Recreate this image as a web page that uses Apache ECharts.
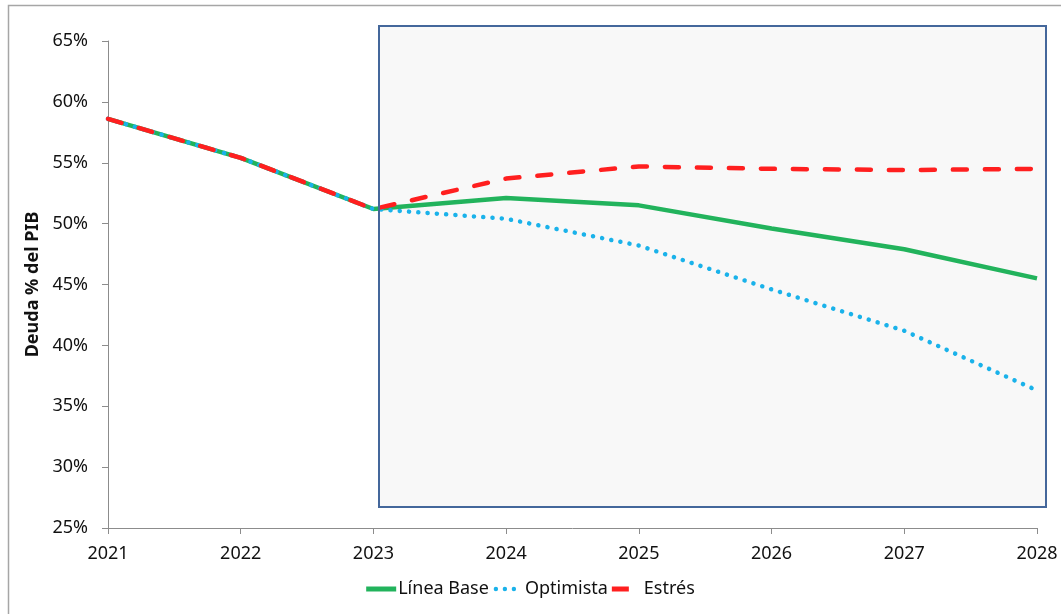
<!DOCTYPE html>
<html>
<head>
<meta charset="utf-8">
<script src="https://cdn.jsdelivr.net/npm/echarts@6/dist/echarts.min.js"></script>
<style>
  html, body { margin: 0; padding: 0; background: #ffffff; }
  #chart { width: 1061px; height: 614px; }
</style>
</head>
<body>
<div id="chart"></div>
<script>
// Years on the horizontal axis
const years = ['2021', '2022', '2023', '2024', '2025', '2026', '2027', '2028'];

// Debt as % of GDP under each scenario
const lineaBase = [58.6, 55.4, 51.2, 52.1, 51.5, 49.6, 47.9, 45.5];
const optimista = [58.6, 55.4, 51.2, 50.4, 48.2, 44.6, 41.2, 36.3];
const estres    = [58.6, 55.4, 51.2, 53.7, 54.7, 54.5, 54.4, 54.5];

// Y-axis range and step (percent)
const yMin = 25, yMax = 65, yStep = 5;

const FONT = 'Noto Sans';
const AXIS_GREY = '#8c8c8c';
const GREEN = '#22b35c', BLUE = '#1ab2ea', RED = '#ff1f1f';

// Legend glyphs: solid bar, three dots, short dash (each padded to a 30x5 box)
const dot = (cx) => `M${cx - 2.2},2.5a2.2,2.2 0 1,0 4.4,0a2.2,2.2 0 1,0 -4.4,0z`;
const ICON_SOLID = 'path://M0,0h30v5h-30z';
const ICON_DOTS  = 'path://M0,0' + dot(3) + dot(12) + dot(21) + 'M30,5';
const ICON_DASH  = 'path://M0,0h17v5h-17zM30,5';

const chart = echarts.init(document.getElementById('chart'));

chart.setOption({
  animation: false,
  backgroundColor: '#ffffff',
  textStyle: { fontFamily: FONT },
  grid: { left: 108, right: 24, top: 41, bottom: 86, containLabel: false },
  graphic: [
    // outer chart frame
    { type: 'rect', z: 0, silent: true,
      shape: { x: 8.5, y: 5.5, width: 1100, height: 700 },
      style: { fill: null, stroke: '#a6a6a6', lineWidth: 1.5 } },
    // projection period panel (fill behind the lines)
    { type: 'rect', z: 0, silent: true,
      shape: { x: 379, y: 26, width: 667, height: 481 },
      style: { fill: '#f8f8f8', stroke: null } },
    // projection period panel border
    { type: 'rect', z: 10, silent: true,
      shape: { x: 379, y: 26, width: 667, height: 481 },
      style: { fill: null, stroke: '#44679b', lineWidth: 2 } }
  ],
  legend: {
    bottom: 11,
    left: 'center',
    itemWidth: 30,
    itemHeight: 5,
    itemGap: 4,
    textStyle: { fontFamily: FONT, fontSize: 18, color: '#111', padding: [0, 0, 0, -3] },
    data: [
      { name: 'Línea Base', icon: ICON_SOLID, itemStyle: { color: GREEN } },
      { name: 'Optimista', icon: ICON_DOTS, itemStyle: { color: BLUE } },
      { name: 'Estrés', icon: ICON_DASH, itemStyle: { color: RED } }
    ]
  },
  xAxis: {
    type: 'category',
    data: years,
    boundaryGap: false,
    axisLine: { lineStyle: { color: AXIS_GREY, width: 1 } },
    axisTick: { show: true, length: 6, alignWithLabel: true, lineStyle: { color: AXIS_GREY } },
    axisLabel: { fontFamily: FONT, fontSize: 18, color: '#111', margin: 17 },
    splitLine: { show: false }
  },
  yAxis: {
    type: 'value',
    min: yMin,
    max: yMax,
    interval: yStep,
    name: 'Deuda % del PIB',
    nameLocation: 'middle',
    nameGap: 60,
    nameRotate: 90,
    nameTextStyle: { fontFamily: FONT, fontSize: 18, fontWeight: 'bold', color: '#111' },
    axisLine: { show: true, lineStyle: { color: AXIS_GREY, width: 1 } },
    axisTick: { show: true, length: 6, lineStyle: { color: AXIS_GREY } },
    axisLabel: { fontFamily: FONT, fontSize: 18, color: '#111', margin: 20, formatter: '{value}%' },
    splitLine: { show: false }
  },
  series: [
    {
      name: 'Línea Base',
      type: 'line',
      data: lineaBase,
      symbol: 'none',
      color: GREEN,
      lineStyle: { color: GREEN, width: 4.5 },
      z: 2
    },
    {
      name: 'Optimista',
      type: 'line',
      data: optimista,
      symbol: 'none',
      color: BLUE,
      lineStyle: { color: BLUE, width: 4.5, type: [0.1, 9.2], cap: 'round' },
      z: 3
    },
    {
      name: 'Estrés',
      type: 'line',
      data: estres,
      symbol: 'none',
      color: RED,
      lineStyle: { color: RED, width: 4.5, type: [14, 18], cap: 'round' },
      z: 4
    }
  ]
});
</script>
</body>
</html>
